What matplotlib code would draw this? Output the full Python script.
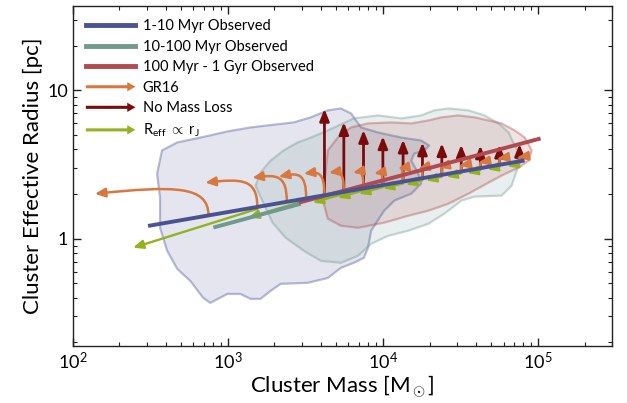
import numpy as np
import matplotlib
matplotlib.use("Agg")
import matplotlib.pyplot as plt
import matplotlib.patches as mpatches
from matplotlib.path import Path
from matplotlib.lines import Line2D
from matplotlib.legend_handler import HandlerPatch
from matplotlib.ticker import FixedLocator, FixedFormatter, LogLocator, NullFormatter

plt.rcParams['font.family'] = ['Lato', 'DejaVu Sans']
plt.rcParams['mathtext.fontset'] = 'custom'
plt.rcParams['mathtext.rm'] = 'Lato'
plt.rcParams['mathtext.it'] = 'Lato:italic'

# colours
c_young = '#4a5391'
c_mid = '#6f9a8d'
c_old = '#b04a50'
c_gr16 = '#d8773f'
c_nml = '#7a0b0b'
c_rj = '#94b21f'

# observed fits (mass in Msun, radius in pc)
young_fit_m = [306, 82000]
young_fit_r = [1.22, 3.37]
mid_fit_m = [807, 2950]
mid_fit_r = [1.19, 1.72]
old_fit_m = [2865, 104000]
old_fit_r = [1.75, 4.74]

# outlines of the observed distributions, log10 mass / log10 radius
young_logm = [2.544, 2.576, 2.674, 2.855, 2.997, 3.146, 3.308, 3.425, 3.535, 3.645, 3.729, 3.794,
              3.859, 3.969, 4.118, 4.247, 4.299, 4.267, 4.202, 4.183, 4.228, 4.247, 4.183, 4.073,
              4.008, 3.924, 3.904, 3.878, 3.813, 3.729, 3.645, 3.516, 3.341, 3.276, 3.211, 3.146,
              3.082, 2.997, 2.887, 2.842, 2.758, 2.674, 2.609, 2.563, 2.563]
young_logr = [0.439, 0.595, 0.649, 0.689, 0.723, 0.750, 0.770, 0.784, 0.818, 0.865, 0.878, 0.845,
              0.750, 0.716, 0.682, 0.662, 0.628, 0.595, 0.574, 0.527, 0.439, 0.372, 0.304, 0.257,
              0.189, 0.054, -0.061, -0.128, -0.162, -0.196, -0.264, -0.297, -0.304, -0.351, -0.405, -0.405,
              -0.372, -0.372, -0.432, -0.399, -0.284, -0.203, -0.081, 0.074, 0.277]
mid_logm = [3.179, 3.211, 3.276, 3.360, 3.451, 3.535, 3.645, 3.813, 3.969, 4.118, 4.247, 4.332,
            4.422, 4.552, 4.655, 4.746, 4.811, 4.850, 4.895, 4.863, 4.830, 4.766, 4.591, 4.506,
            4.396, 4.293, 4.163, 4.034, 3.924, 3.839, 3.729, 3.600, 3.490, 3.373, 3.289, 3.231]
mid_logr = [0.358, 0.446, 0.527, 0.595, 0.649, 0.682, 0.730, 0.811, 0.831, 0.811, 0.831, 0.865,
            0.878, 0.865, 0.831, 0.777, 0.716, 0.628, 0.547, 0.459, 0.358, 0.291, 0.284, 0.257,
            0.169, 0.101, 0.054, 0.020, -0.034, -0.115, -0.162, -0.149, -0.081, 0.007, 0.108, 0.236]
old_logm = [3.619, 3.645, 3.710, 3.794, 3.904, 4.053, 4.183, 4.293, 4.377, 4.487, 4.591, 4.681,
            4.766, 4.850, 4.915, 4.960, 4.940, 4.876, 4.766, 4.681, 4.552, 4.422, 4.293, 4.163,
            4.008, 3.839, 3.729, 3.645, 3.619]
old_logr = [0.324, 0.595, 0.682, 0.750, 0.777, 0.784, 0.777, 0.797, 0.818, 0.831, 0.818, 0.797,
            0.777, 0.730, 0.682, 0.595, 0.527, 0.480, 0.426, 0.378, 0.304, 0.236, 0.189, 0.155,
            0.108, 0.074, 0.088, 0.135, 0.236]

# GR16 tracks
gr_m0 = [750, 1550, 2400, 3200, 4200, 5600, 7500, 10000, 13500, 18000, 24000, 32000, 42500, 56500, 76000]
gr_r0 = [1.44, 1.64, 1.78, 1.88, 1.96, 2.07, 2.19, 2.30, 2.43, 2.56, 2.70, 2.84, 2.99, 3.15, 3.32]
gr_rpk = [2.28, 2.54, 2.71, 2.79, 2.83, 2.85, 2.85, 2.80, 3.00, 3.00, 3.05, 3.12, 3.27, 3.48, 3.54]
gr_m1 = [139, 716, 1440, 2130, 3090, 4490, 6410, 8770, 12500, 16900, 22800, 31200, 41500, 55000, 74000]
gr_r1 = [2.01, 2.39, 2.58, 2.62, 2.75, 2.79, 2.79, 2.75, 2.97, 2.97, 3.02, 3.11, 3.26, 3.47, 3.53]

# no mass loss
nml_m = [4200, 5600, 7500, 10000, 13500, 18000, 24000, 32000, 42500, 56500, 76000]
nml_r0 = [1.96, 2.07, 2.19, 2.30, 2.43, 2.56, 2.70, 2.84, 2.99, 3.15, 3.32]
nml_r1 = [7.5, 6.1, 5.4, 4.9, 4.65, 4.45, 4.4, 4.3, 4.25, 4.3, 4.35]

# R_eff proportional to r_J
rj_m0 = [1550, 3200, 5600, 7500, 10000, 13500, 18000, 24000, 32000, 42500, 56500, 76000]
rj_r0 = [1.59, 1.82, 2.01, 2.12, 2.23, 2.36, 2.48, 2.62, 2.76, 2.90, 3.06, 3.22]
rj_m1 = [245, 1360, 3530, 5130, 7010, 10000, 14100, 19000, 25700, 35100, 47300, 63700]
rj_r1 = [0.87, 1.39, 1.75, 1.89, 2.01, 2.18, 2.32, 2.47, 2.62, 2.77, 2.93, 3.07]

fig, ax = plt.subplots(figsize=(6.27, 4.03), dpi=100)
fig.subplots_adjust(left=0.116, right=0.976, bottom=0.142, top=0.985)
ax.set_xscale('log')
ax.set_yscale('log')

for lm, lr, col in [(young_logm, young_logr, c_young), (mid_logm, mid_logr, c_mid), (old_logm, old_logr, c_old)]:
    xy = np.column_stack([10 ** np.array(lm), 10 ** np.array(lr)])
    ax.add_patch(mpatches.Polygon(xy, closed=True, facecolor=col, alpha=0.15, edgecolor='none', zorder=1))
    ax.add_patch(mpatches.Polygon(xy, closed=True, facecolor='none', edgecolor=col, alpha=0.38, lw=1.6,
                                  joinstyle='round', zorder=1.1))

# no mass loss arrows
for m, r0, r1 in zip(nml_m, nml_r0, nml_r1):
    a = mpatches.FancyArrowPatch((m, r0), (m, r1), arrowstyle='-|>,head_length=0.7,head_width=0.28',
                                 mutation_scale=10, color=c_nml, lw=2, shrinkA=0, shrinkB=0, zorder=3)
    ax.add_patch(a)

# GR16 tracks
for m0, r0, rpk, m1, r1 in zip(gr_m0, gr_r0, gr_rpk, gr_m1, gr_r1):
    mc = m0 ** 0.7 * m1 ** 0.3
    verts = [(m0, r0), (m0, rpk), (mc, rpk), (m1, r1)]
    p = Path(verts, [Path.MOVETO, Path.CURVE4, Path.CURVE4, Path.CURVE4])
    a = mpatches.FancyArrowPatch(path=p, arrowstyle='-|>,head_length=0.6,head_width=0.27',
                                 mutation_scale=10, color=c_gr16, lw=1.8, zorder=4)
    ax.add_patch(a)

# R_eff ~ r_J arrows
for m0, r0, m1, r1 in zip(rj_m0, rj_r0, rj_m1, rj_r1):
    a = mpatches.FancyArrowPatch((m0, r0), (m1, r1), arrowstyle='-|>,head_length=0.6,head_width=0.26',
                                 mutation_scale=10, color=c_rj, lw=1.7, shrinkA=0, shrinkB=0, zorder=4)
    ax.add_patch(a)

ax.plot(mid_fit_m, mid_fit_r, color=c_mid, lw=2.8, zorder=5, solid_capstyle='butt')
ax.plot(old_fit_m, old_fit_r, color=c_old, lw=2.8, zorder=5, solid_capstyle='butt')
ax.plot(young_fit_m, young_fit_r, color=c_young, lw=2.8, zorder=5, solid_capstyle='butt')

ax.set_xlim(100, 3e5)
ax.set_ylim(0.19, 37)
ax.yaxis.set_major_locator(FixedLocator([1, 10]))
ax.yaxis.set_major_formatter(FixedFormatter(['1', '10']))
ax.yaxis.set_minor_locator(LogLocator(base=10, subs=np.arange(2, 10)))
ax.yaxis.set_minor_formatter(NullFormatter())
ax.tick_params(which='both', direction='in', top=True, right=True, labelsize=13, color='#222222')
ax.tick_params(which='major', length=6, width=1)
ax.tick_params(which='minor', length=3, width=0.8)
for s in ax.spines.values():
    s.set_linewidth(1)
    s.set_color('#222222')

ax.set_xlabel(r'Cluster Mass [M$_\odot$]', fontsize=16, labelpad=1)
ax.set_ylabel('Cluster Effective Radius [pc]', fontsize=16, labelpad=3)


class HandlerArrow(HandlerPatch):
    def create_artists(self, legend, orig_handle, xdescent, ydescent, width, height, fontsize, trans):
        p = mpatches.FancyArrow(-xdescent, 0.5 * height - ydescent, width, 0, length_includes_head=True,
                                width=height * 0.3, head_width=height * 0.9, head_length=height * 0.8,
                                color=orig_handle.get_facecolor(), lw=0)
        p.set_transform(trans)
        return [p]


handles = [Line2D([], [], color=c_young, lw=3.5),
           Line2D([], [], color=c_mid, lw=3.5),
           Line2D([], [], color=c_old, lw=3.5),
           mpatches.Patch(color=c_gr16),
           mpatches.Patch(color=c_nml),
           mpatches.Patch(color=c_rj)]
labels = ['1-10 Myr Observed', '10-100 Myr Observed', '100 Myr - 1 Gyr Observed', 'GR16', 'No Mass Loss',
          r'R$_{\rm eff}$ $\propto$ r$_{\rm J}$']
ax.legend(handles, labels, loc='upper left', frameon=False, fontsize=10.5, handlelength=3.4,
          labelspacing=0.45, borderaxespad=0.5, handletextpad=0.5,
          handler_map={mpatches.Patch: HandlerArrow()})

fig.savefig('out.png', dpi=100)
